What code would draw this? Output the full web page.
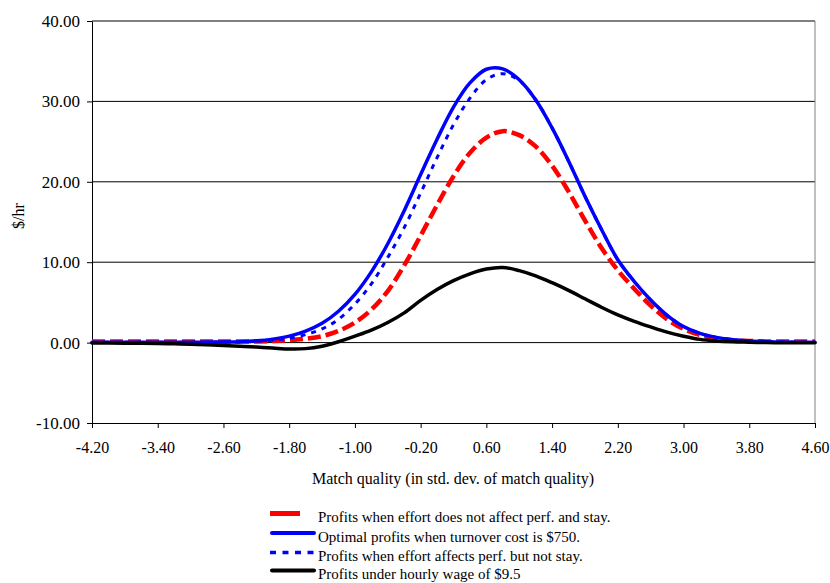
<html>
  <head>
    <script src="https://cdn.jsdelivr.net/npm/d3@7"></script>
    <style>
      * {
        margin: 0;
        padding: 0;
      }
      body {
        background-color: white;
      }
      svg,
      svg text {
        font-family: "Liberation Serif", "Times New Roman", serif;
      }
      .yAxis text {
        font-size: 17px;
        fill: black;
      }
      .xAxis text {
        font-size: 16px;
        fill: black;
      }
      .legendText {
        font-size: 15px;
      }
    </style>
  </head>
  <body>
    <div id="chart"></div>
    <script>
      // match quality (std. dev.)
      const matchQuality = [
        -4.2, -4.0, -3.8, -3.6, -3.4, -3.2, -3.0, -2.8, -2.6, -2.4, -2.2,
        -2.0, -1.8, -1.6, -1.4, -1.2, -1.0, -0.8, -0.6, -0.4, -0.2, 0.0, 0.2,
        0.4, 0.6, 0.8, 1.0, 1.2, 1.4, 1.6, 1.8, 2.0, 2.2, 2.4, 2.6, 2.8, 3.0,
        3.2, 3.4, 3.6, 3.8, 4.0, 4.2, 4.4, 4.6,
      ];

      // effort does not affect perf. and stay
      const noEffortProfits = [
        0.15, 0.15, 0.15, 0.15, 0.15, 0.15, 0.15, 0.15, 0.15, 0.15, 0.15, 0.2,
        0.3, 0.48, 0.8, 1.45, 2.5, 4.1, 6.4, 9.6, 13.3, 17.1, 20.7, 23.6, 25.5,
        26.3, 25.8, 24.4, 22.0, 18.8, 15.2, 11.8, 9.0, 6.7, 4.6, 2.9, 1.7,
        0.95, 0.5, 0.3, 0.2, 0.15, 0.15, 0.15, 0.15,
      ];

      // optimal, turnover cost $750
      const optimalProfits = [
        0.05, 0.05, 0.05, 0.05, 0.05, 0.05, 0.05, 0.06, 0.08, 0.12, 0.22,
        0.43, 0.8, 1.43, 2.4, 3.9, 6.0, 8.8, 12.3, 16.4, 20.9, 25.3, 29.3,
        32.3, 34.0, 34.05, 32.7, 30.2, 26.7, 22.6, 18.2, 14.1, 10.3, 7.6, 5.3,
        3.4, 2.0, 1.15, 0.65, 0.35, 0.2, 0.12, 0.08, 0.05, 0.04,
      ];

      // effort affects perf. but not stay
      const perfOnlyProfits = [
        0.05, 0.05, 0.05, 0.05, 0.05, 0.05, 0.05, 0.05, 0.06, 0.08, 0.15, 0.3,
        0.55, 1.0, 1.7, 2.9, 4.8, 7.3, 10.6, 14.3, 18.6, 23.0, 27.1, 30.4,
        32.7, 33.45, 32.6, 30.2, 26.7, 22.6, 18.2, 14.1, 10.3, 7.6, 5.3, 3.4,
        2.0, 1.15, 0.65, 0.35, 0.2, 0.12, 0.08, 0.05, 0.04,
      ];

      // hourly wage of $9.5
      const hourlyWageProfits = [
        -0.05, -0.05, -0.07, -0.09, -0.12, -0.15, -0.2, -0.27, -0.35, -0.45,
        -0.56, -0.68, -0.8, -0.75, -0.45, 0.1, 0.8, 1.55, 2.5, 3.7, 5.25, 6.6,
        7.7, 8.55, 9.15, 9.35, 8.95, 8.3, 7.45, 6.5, 5.45, 4.4, 3.45, 2.65,
        1.95, 1.3, 0.8, 0.4, 0.2, 0.1, 0.05, 0.0, -0.02, -0.02, -0.02,
      ];

      const xTickValues = [
        -4.2, -3.4, -2.6, -1.8, -1.0, -0.2, 0.6, 1.4, 2.2, 3.0, 3.8, 4.6,
      ];
      const xTickLabels = [
        "-4.20", "-3.40", "-2.60", "-1.80", "-1.00", "-0.20", "0.60", "1.40",
        "2.20", "3.00", "3.80", "4.60",
      ];
      const yTickValues = [-10, 0, 10, 20, 30, 40];
      const yTickLabels = ["-10.00", "0.00", "10.00", "20.00", "30.00", "40.00"];

      const seriesNames = [
        "Profits when effort does not affect perf. and stay.",
        "Optimal profits when turnover cost is $750.",
        "Profits when effort affects perf. but not stay.",
        "Profits  under hourly wage of $9.5",
      ];

      const w = 830;
      const h = 583;
      const plotLeft = 92;
      const plotRight = 815;
      const plotTop = 21;
      const plotBottom = 423;

      const xScale = d3
        .scaleLinear()
        .domain([-4.2, 4.6])
        .range([plotLeft, plotRight]);
      const yScale = d3
        .scaleLinear()
        .domain([-10, 40])
        .range([plotBottom, plotTop]);

      const svg = d3
        .select("#chart")
        .append("svg")
        .attr("width", w)
        .attr("height", h)
        .attr("font-family", "Liberation Serif, Times New Roman, serif");

      // gridlines
      svg
        .append("g")
        .selectAll("line")
        .data(yTickValues.filter((v) => v >= 0))
        .enter()
        .append("line")
        .attr("x1", plotLeft)
        .attr("x2", plotRight)
        .attr("y1", (d) => yScale(d))
        .attr("y2", (d) => yScale(d))
        .attr("stroke", "#000")
        .attr("stroke-width", 1);

      // right border
      svg
        .append("line")
        .attr("x1", plotRight)
        .attr("x2", plotRight)
        .attr("y1", plotTop)
        .attr("y2", plotBottom)
        .attr("stroke", "#808080")
        .attr("stroke-width", 1);

      const yAxis = d3
        .axisLeft(yScale)
        .tickValues(yTickValues)
        .tickFormat((d, i) => yTickLabels[i])
        .tickSize(5)
        .tickSizeOuter(0)
        .tickPadding(7);

      svg
        .append("g")
        .attr("class", "yAxis")
        .attr("transform", "translate(" + plotLeft + ",0)")
        .call(yAxis)
        .attr("font-family", null)
        .attr("font-size", null);

      const xAxis = d3
        .axisBottom(xScale)
        .tickValues(xTickValues)
        .tickFormat((d, i) => xTickLabels[i])
        .tickSize(5)
        .tickSizeOuter(0)
        .tickPadding(14);

      svg
        .append("g")
        .attr("class", "xAxis")
        .attr("transform", "translate(0," + plotBottom + ")")
        .call(xAxis)
        .attr("font-family", null)
        .attr("font-size", null);

      // axis titles
      svg
        .append("text")
        .attr("transform", "translate(24,216) rotate(-90)")
        .attr("text-anchor", "middle")
        .attr("font-size", "16px")
        .text("$/hr");

      svg
        .append("text")
        .attr("x", 453)
        .attr("y", 484)
        .attr("text-anchor", "middle")
        .attr("font-size", "16px")
        .text("Match quality (in std. dev. of match quality)");

      const series = [
        { values: noEffortProfits, color: "#ff0000", width: 4.5, dash: "13,5", cap: "butt" },
        { values: optimalProfits, color: "#0000ff", width: 3.5, dash: null, cap: "round" },
        { values: perfOnlyProfits, color: "#0000ff", width: 3, dash: "5,6", cap: "butt" },
        { values: hourlyWageProfits, color: "#000000", width: 3.5, dash: null, cap: "round" },
      ];

      const line = d3
        .line()
        .x((d) => xScale(d[0]))
        .y((d) => yScale(d[1]))
        .curve(d3.curveCatmullRom.alpha(0.5));

      svg
        .append("g")
        .selectAll("path")
        .data(series)
        .enter()
        .append("path")
        .attr("d", (s) => line(matchQuality.map((x, i) => [x, s.values[i]])))
        .attr("fill", "none")
        .attr("stroke", (s) => s.color)
        .attr("stroke-width", (s) => s.width)
        .attr("stroke-dasharray", (s) => s.dash)
        .attr("stroke-linejoin", "round")
        .attr("stroke-linecap", (s) => s.cap);

      // legend
      const legendY = [522, 541.5, 561, 579];
      const legend = svg.append("g");
      series.forEach((s, i) => {
        const cy = legendY[i] - 8.5;
        const len = i === 0 ? 30 : 44;
        legend
          .append("line")
          .attr("x1", i === 0 || i === 2 ? 270 : 272)
          .attr("x2", 270 + len)
          .attr("y1", cy)
          .attr("y2", cy)
          .attr("stroke", s.color)
          .attr("stroke-width", i === 0 ? 5 : s.width + 0.5)
          .attr("stroke-dasharray", i === 2 ? "6,6.5" : null)
          .attr("stroke-linecap", s.cap);
        legend
          .append("text")
          .attr("class", "legendText")
          .attr("x", 318)
          .attr("y", legendY[i])
          .text(seriesNames[i]);
      });
    </script>
  </body>
</html>
